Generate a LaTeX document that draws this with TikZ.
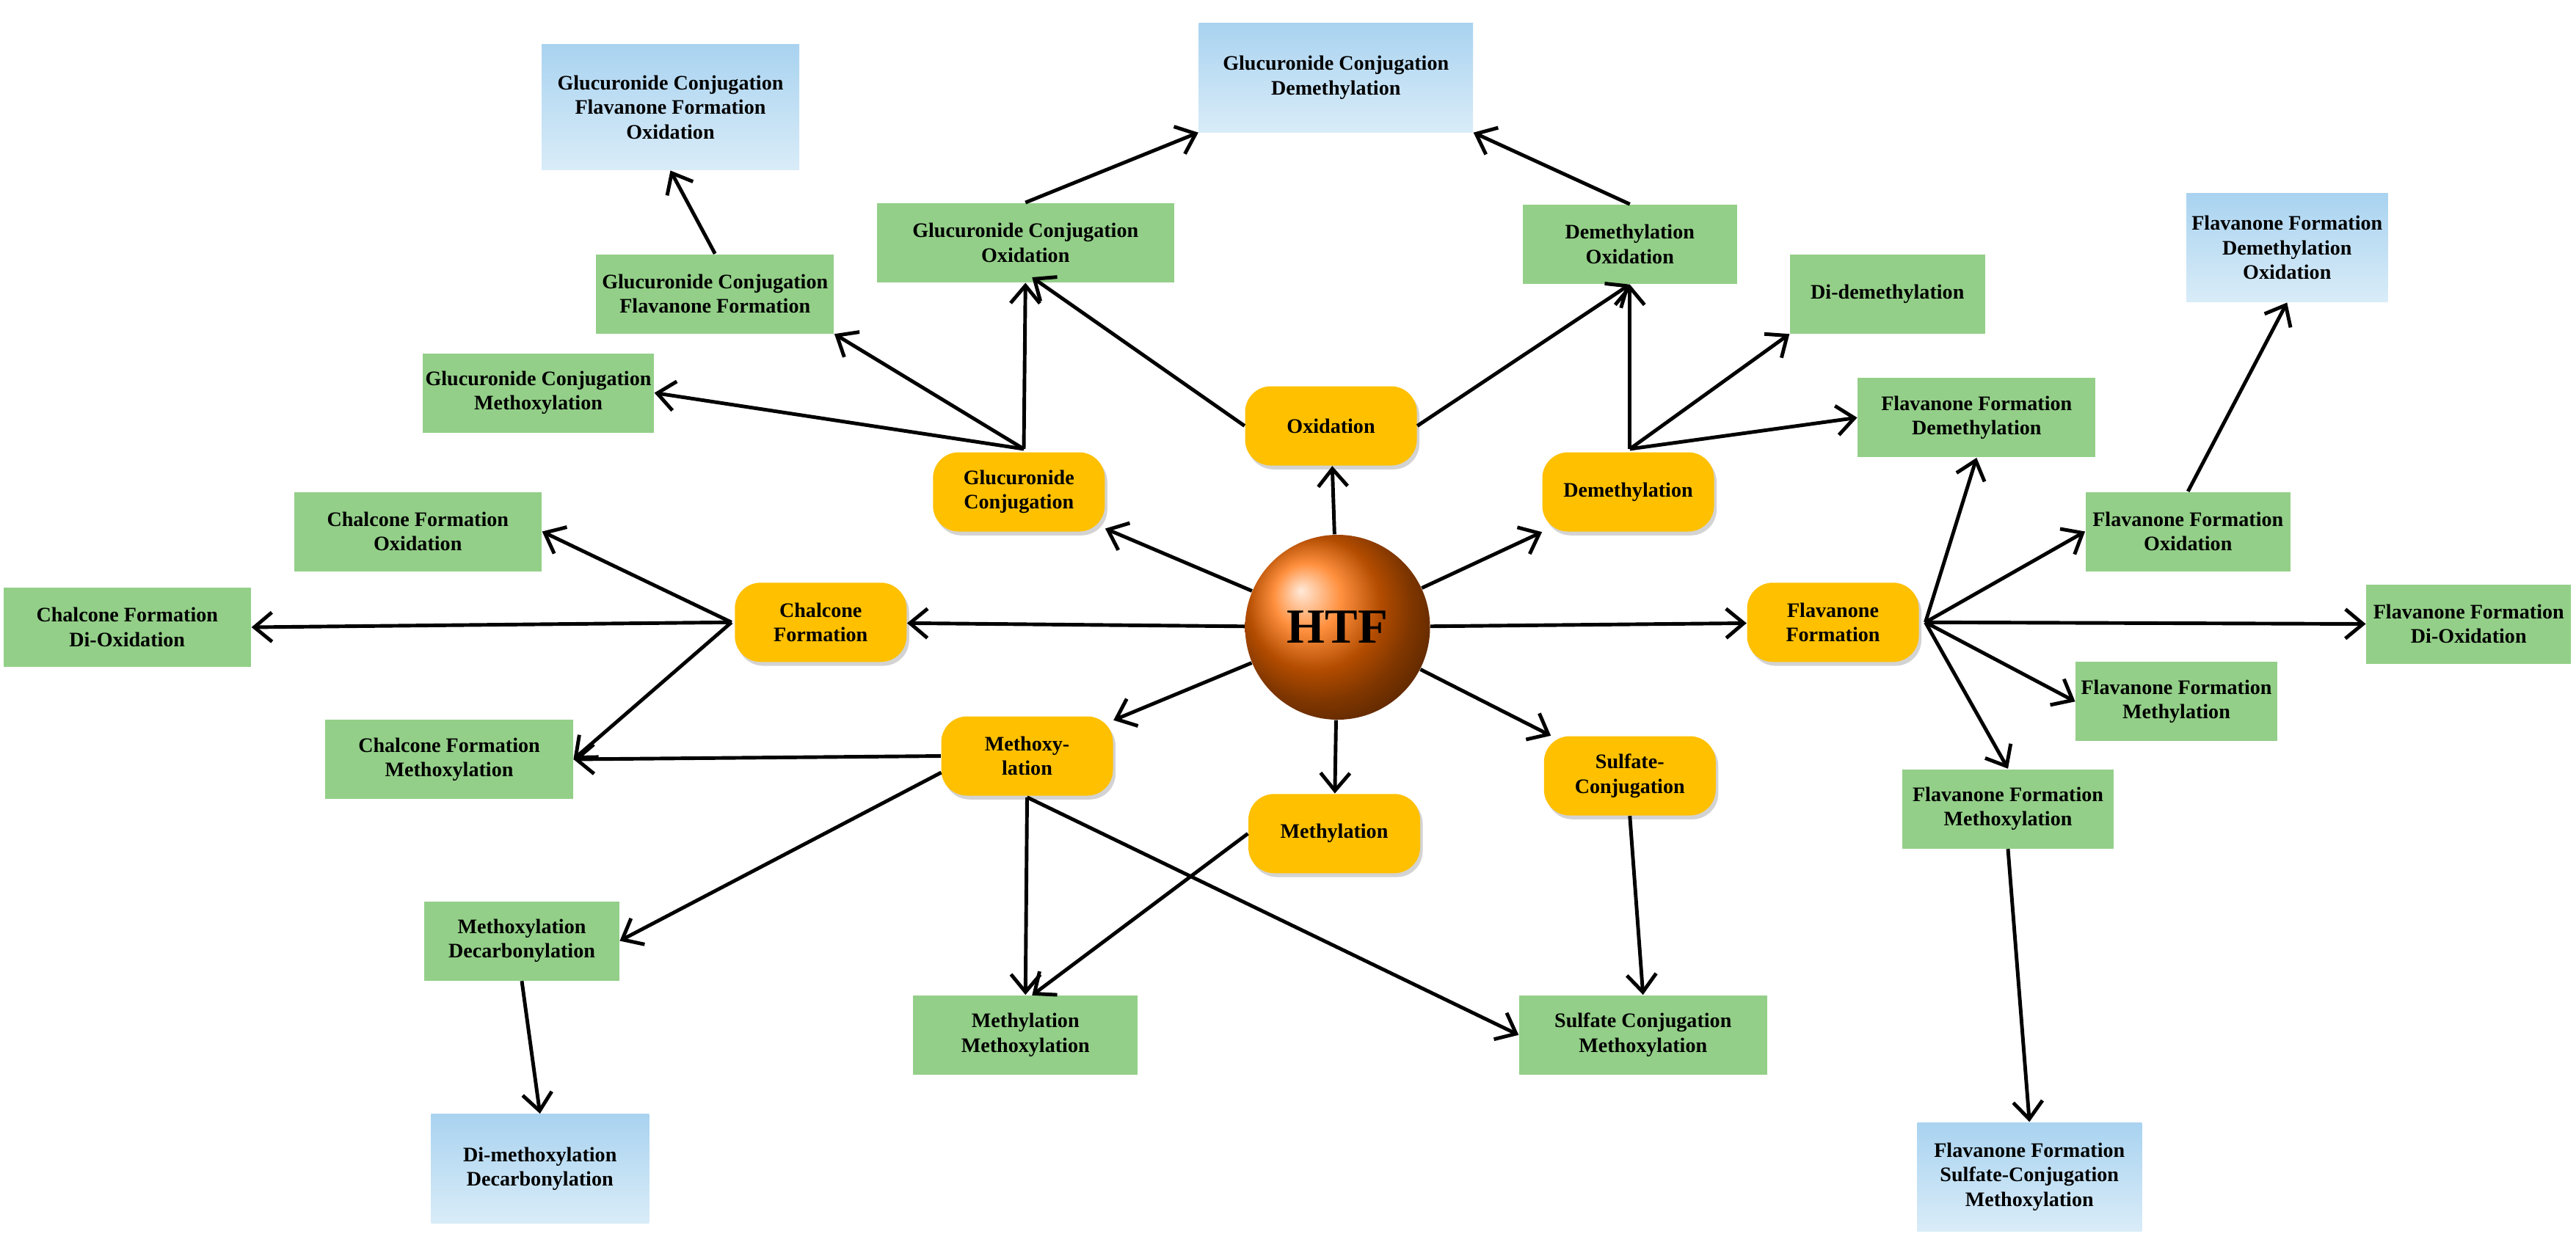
\documentclass[tikz,border=0pt]{standalone}
\usepackage{fontspec}
\setmainfont{Liberation Serif}
\usetikzlibrary{arrows.meta,shadows,shapes.geometric}
\definecolor{gr}{HTML}{93CF88}
\definecolor{bl1}{HTML}{A9D3F0}
\definecolor{bl2}{HTML}{D9ECF8}
\definecolor{og}{HTML}{FFC000}
\begin{document}
\begin{tikzpicture}[x=0.0225cm,y=-0.0225cm,
  every node/.style={font=\bfseries\fontsize{8}{9.5}\selectfont,align=center,inner sep=1pt},
  g/.style={fill=gr,minimum width=#1*0.0225cm,minimum height=48*0.0225cm},
  b/.style={top color=bl1,bottom color=bl2,minimum width=#1*0.0225cm,minimum height=66*0.0225cm},
  o/.style={fill=og,rounded corners=10pt,minimum width=104*0.0225cm,minimum height=48*0.0225cm,drop shadow={opacity=0.35,shadow xshift=1pt,shadow yshift=-1.5pt}},
  a/.style={draw,line width=1.4pt,-{Straight Barb[length=2.4mm,width=4mm,line width=1.4pt]}}]
\useasboundingbox (0,0) rectangle (1560,752);
% central
\node[circle,ball color=orange!85!red,minimum size=112*0.0225cm,font=\bfseries\fontsize{19}{22}\selectfont] (htf) at (810,380) {HTF};
% orange
\node[o] (ox) at (806,258) {Oxidation};
\node[o] (gc) at (617,298) {Glucuronide\\Conjugation};
\node[o] (de) at (986,298) {Demethylation};
\node[o] (ch) at (497,377) {Chalcone\\Formation};
\node[o] (fl) at (1110,377) {Flavanone\\Formation};
\node[o] (me) at (622,458) {Methoxy-\\lation};
\node[o] (my) at (808,505) {Methylation};
\node[o] (su) at (987,470) {Sulfate-\\Conjugation};
% green
\node[g=180] (gcox) at (621,147) {Glucuronide Conjugation\\Oxidation};
\node[g=144] (gcff) at (433,178) {Glucuronide Conjugation\\Flavanone Formation};
\node[g=138] (gcme) at (326,238) {Glucuronide Conjugation\\Methoxylation};
\node[g=130] (deox) at (987,148) {Demethylation\\Oxidation};
\node[g=118] (dide) at (1143,178) {Di-demethylation};
\node[g=144] (ffde) at (1197,253) {Flavanone Formation\\Demethylation};
\node[g=150] (chox) at (253,322) {Chalcone Formation\\Oxidation};
\node[g=150] (chdi) at (77,380) {Chalcone Formation\\Di-Oxidation};
\node[g=150] (chme) at (272,460) {Chalcone Formation\\Methoxylation};
\node[g=118] (medc) at (316,570) {Methoxylation\\Decarbonylation};
\node[g=136] (myme) at (621,627) {Methylation\\Methoxylation};
\node[g=150] (scme) at (995,627) {Sulfate Conjugation\\Methoxylation};
\node[g=124] (ffox) at (1325,322) {Flavanone Formation\\Oxidation};
\node[g=124] (ffdi) at (1495,378) {Flavanone Formation\\Di-Oxidation};
\node[g=122] (ffmy) at (1318,425) {Flavanone Formation\\Methylation};
\node[g=128] (ffme) at (1216,490) {Flavanone Formation\\Methoxylation};
% blue
\node[b=156,minimum height=76*0.0225cm] (gcffo) at (406,65) {Glucuronide Conjugation\\Flavanone Formation\\Oxidation};
\node[b=166] (gcde) at (809,47) {Glucuronide Conjugation\\Demethylation};
\node[b=122] (ffdeo) at (1385,150) {Flavanone Formation\\Demethylation\\Oxidation};
\node[b=132] (dimd) at (327,708) {Di-methoxylation\\Decarbonylation};
\node[b=136] (ffsm) at (1229,713) {Flavanone Formation\\Sulfate-Conjugation\\Methoxylation};
% edges
\foreach \t in {ox,gc,de,ch,fl,me,my,su} \draw[a] (htf) -- (\t);
\draw[a] (ox.west) -- (625,168);
\draw[a] (ox.east) -- (deox.south);
\coordinate (gcp) at (620,272);
\draw[a] (gcp) -- (gcox.south);
\draw[a] (gcp) -- (gcff.south east);
\draw[a] (gcp) -- (gcme.east);
\draw[a] (gcox.north) -- (gcde.south west);
\draw[a] (deox.north) -- (gcde.south east);
\draw[a] (gcff.north) -- (gcffo.south);
\coordinate (dep) at (987,272);
\draw[a] (dep) -- (deox.south);
\draw[a] (dep) -- (dide.south west);
\draw[a] (dep) -- (ffde.west);
\coordinate (chp) at (443,377);
\draw[a] (chp) -- (chox.east);
\draw[a] (chp) -- (chdi.east);
\draw[a] (chp) -- (chme.east);
\draw[a] (me.west) -- (chme.east);
\draw[a] (570,468) -- (medc.east);
\coordinate (mep) at (622,483);
\draw[a] (mep) -- (myme.north);
\draw[a] (mep) -- (scme.west);
\draw[a] (my.west) -- (625,603);
\draw[a] (su.south) -- (scme.north);
\draw[a] (medc.south) -- (dimd.north);
\coordinate (flp) at (1166,377);
\draw[a] (flp) -- (ffde.south);
\draw[a] (flp) -- (ffox.west);
\draw[a] (flp) -- (ffdi.west);
\draw[a] (flp) -- (ffmy.west);
\draw[a] (flp) -- (ffme.north);
\draw[a] (ffox.north) -- (ffdeo.south);
\draw[a] (ffme.south) -- (ffsm.north);
\end{tikzpicture}
\end{document}
